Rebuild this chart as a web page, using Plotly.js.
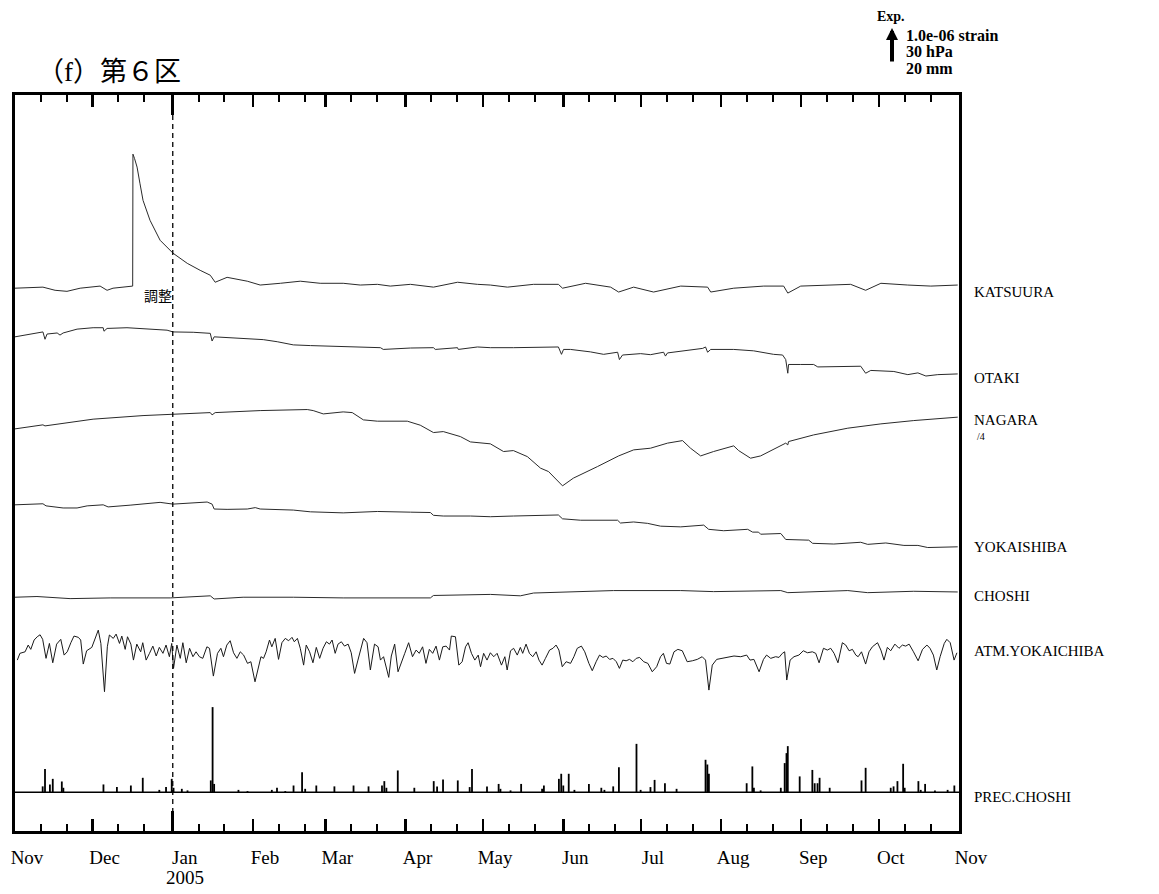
<!DOCTYPE html>
<html>
<head>
<meta charset="utf-8">
<script src="https://cdn.plot.ly/plotly-3.0.1.min.js"></script>
<style>html,body{margin:0;padding:0;background:#fff;}#chart{width:1159px;height:894px;}</style>
</head>
<body>
<div id="chart"></div>
<script>
// ---------------- DATA (days since 2004-11-01) ----------------
const TICK_LABELS = ['Nov','Dec','Jan','Feb','Mar','Apr','May','Jun','Jul','Aug','Sep','Oct','Nov'];
const YEAR_LABEL = '2005';

// KATSUURA strain change, 1e-7
const KATSUURA_DAY = [0,10.8,15.5,20.1,25.2,32.9,35.6,37.9,45.5,45.6,46.2,47.2,48.3,49.5,52.2,56.1,61.1,66.6,71.6,75.5,77.4,82.0,89.8,94.8,102.6,110.3,118.0,126.9,133.5,140.1,145.1,152.9,161.8,171.1,178.8,183.8,190.4,200.5,210.1,211.7,220.6,230.3,233.4,239.2,246.9,257.4,267.8,269.0,277.9,289.5,297.2,298.8,303.8,314.2,323.1,328.9,334.8,345.2,354.1,364.5];
const KATSUURA_VAL = [0,0.3,-0.6,-0.9,0,0.6,-0.6,0,0.6,38.3,37.1,34.6,30.0,25.1,19.4,13.7,10.0,7.1,5.1,3.7,1.7,3.1,2.0,0.9,1.4,2.0,1.4,1.4,0.9,1.1,0.6,1.1,0.3,1.7,1.1,0.9,0.3,1.1,1.1,0,1.4,0.3,-1.1,0.3,-1.1,0.6,0.3,-1.1,0,0.6,0.6,-1.4,0.6,0.9,1.1,-0.6,1.4,0.9,0.6,0.9];

// OTAKI strain change, 1e-7
const OTAKI_DAY = [0,5.8,10.8,11.6,12.4,16.3,17.4,18.6,24.0,30.2,34.1,34.4,35.6,43.3,52.2,58.8,61.1,68.9,75.5,76.2,77.0,88.2,96.0,101.4,107.6,114.2,123.1,126.9,141.3,142.4,147.8,152.9,161.8,162.5,171.1,171.4,178.8,183.8,192.7,210.1,211.3,212.1,214.8,222.5,227.6,233.0,233.7,234.9,241.9,245.7,250.8,251.5,252.3,260.1,265.9,267.0,267.8,269.0,277.9,285.6,293.3,296.8,298.0,298.8,299.1,303.8,308.8,310.4,327.0,328.9,330.9,339.8,345.2,349.1,352.2,356.8,364.5];
const OTAKI_VAL = [0.1,0.9,1.5,-0.6,0.9,1.2,0.6,1.2,2.3,2.7,2.7,1.7,2.5,2.7,2.4,2.0,1.5,1.4,1.1,-1.1,0.1,-0.3,-0.7,-1.3,-2.2,-2.4,-2.6,-2.8,-3.0,-3.5,-3.2,-3.1,-3.0,-3.5,-3.0,-3.5,-2.8,-3.0,-3.0,-2.8,-4.9,-3.5,-3.5,-4.2,-4.9,-4.3,-6.4,-5.1,-4.7,-5.0,-4.3,-5.4,-4.5,-3.7,-3.2,-2.8,-4.3,-3.5,-3.5,-3.9,-4.9,-5.1,-6.4,-10.3,-7.8,-7.8,-7.8,-8.5,-8.3,-10.3,-9.5,-9.8,-10.7,-10.2,-11.1,-10.7,-10.5];

// NAGARA strain change, 1e-7 (plotted divided by 4)
const NAGARA_DAY = [0,10.8,11.6,30.2,49.5,61.1,75.5,76.2,77.4,94.8,113.0,115.3,119.2,126.9,130.4,134.7,140.1,151.7,156.7,161.8,165.6,172.2,176.1,183.8,188.9,192.7,198.1,203.2,206.3,211.7,215.9,225.2,233.4,239.2,245.7,252.3,258.1,261.2,265.1,270.1,277.9,279.8,284.4,288.3,298.0,298.8,299.1,308.8,322.0,334.8,347.5,364.5];
const NAGARA_VAL = [0,4.6,3.4,11.1,15.2,16.8,18.6,16.0,18.6,20.9,22.1,20.9,17.1,19.4,18.6,10.3,8.8,8.8,4.2,-4.2,-3.1,-8.8,-14.9,-17.1,-25.9,-24.8,-31.7,-44.9,-48.8,-65.1,-56.3,-43.1,-30.9,-24.0,-22.1,-16.3,-13.4,-22.1,-30.9,-25.9,-19.4,-24.8,-33.5,-30.9,-16.3,-18.3,-14.5,-6.9,0.8,5.7,9.5,13.4];

// YOKAISHIBA strain change, 1e-7
const YOKAISHIBA_DAY = [0,10.8,12.0,18.6,24.0,27.9,34.1,36.0,44.5,56.1,61.1,67.7,74.3,76.2,77.0,82.0,89.8,92.9,94.8,107.6,114.2,126.9,140.1,152.9,160.6,161.8,165.6,176.1,183.8,192.7,203.2,210.1,211.7,218.7,233.0,234.1,239.2,244.6,249.6,257.4,266.3,268.2,274.0,283.3,285.2,287.5,288.3,296.1,298.0,306.9,308.4,316.6,327.0,329.7,336.7,343.7,349.1,352.9,364.5];
const YOKAISHIBA_VAL = [0.1,0.4,-0.2,-0.8,-0.8,-0.2,0.1,-0.5,0,0.8,0.3,0.5,0.9,0.3,-1.1,-1.2,-1.1,-0.7,-1.1,-1.4,-1.9,-2.2,-1.8,-2.0,-2.1,-2.9,-3.1,-3.1,-3.3,-3.1,-2.9,-2.8,-3.9,-4.3,-4.3,-5.1,-4.8,-5.2,-6.0,-6.2,-5.7,-6.9,-7.3,-6.9,-7.7,-7.7,-8.3,-8.1,-9.8,-10.0,-10.9,-11.1,-10.6,-11.2,-10.8,-11.5,-11.5,-12.1,-11.9];

// CHOSHI strain change, 1e-7
const CHOSHI_DAY = [0,8.5,21.3,36.8,60.0,67.7,75.5,77.0,88.2,107.6,126.9,160.6,161.8,183.8,195.4,200.5,218.7,231.4,257.4,270.1,296.1,298.8,322.0,329.7,347.5,364.5];
const CHOSHI_VAL = [-0.1,0.1,-0.5,-0.3,-0.3,-0.1,0.3,-0.6,-0.1,-0.1,-0.3,-0.3,0.4,0.7,0.3,1.1,1.4,1.8,1.8,1.5,1.8,1.2,1.8,1.2,1.6,1.4];

// ATM.YOKAICHIBA pressure, hPa
const ATM_DAY = [0.9,1.9,3.9,5.1,6.1,7.4,8.6,9.7,10.7,12.0,13.3,14.6,16.1,17.7,19.0,20.2,21.6,22.8,24.5,25.4,26.4,27.7,29.7,31.0,32.2,33.2,34.6,35.7,36.5,38.0,39.1,40.4,41.3,42.6,43.5,44.8,45.8,47.1,48.6,49.4,50.7,52.0,53.3,54.6,55.8,57.2,58.4,59.7,60.6,61.3,62.6,63.9,64.9,66.2,67.5,68.8,70.0,71.3,72.6,74.2,75.2,76.7,78.3,79.6,80.6,81.9,83.2,84.5,85.8,87.1,88.4,89.9,91.2,92.8,93.8,95.1,96.1,97.1,98.4,99.3,100.6,101.9,103.2,104.5,105.8,107.1,108.0,109.2,110.3,111.6,112.6,113.9,115.2,116.5,117.8,119.1,120.4,121.6,122.6,123.8,124.9,126.2,127.4,128.8,130.0,131.3,132.6,133.9,134.8,136.1,137.4,139.0,140.4,141.3,142.5,143.8,144.5,145.5,146.8,148.1,149.4,150.7,152.2,153.7,155.1,156.3,157.6,158.9,160.2,161.5,162.8,164.1,165.4,166.7,168.0,168.7,170.3,171.6,172.9,174.2,175.2,176.5,177.8,179.1,180.0,181.2,182.5,183.8,185.1,186.4,188.1,189.4,190.3,191.6,192.8,194.2,195.4,196.3,197.6,198.9,200.2,201.5,202.6,203.8,205.1,206.7,208.0,209.2,210.3,211.6,213.1,214.8,216.1,217.4,219.0,220.3,221.9,223.2,224.7,226.0,227.3,228.6,229.9,231.2,232.5,233.7,235.0,236.3,237.6,238.9,240.2,241.5,243.1,244.7,246.4,248.1,249.6,250.7,251.9,253.2,254.8,256.3,258.0,259.9,261.9,263.8,265.7,267.0,268.3,269.6,271.3,273.5,275.4,278.0,280.6,282.9,284.2,285.7,287.7,289.4,290.6,292.2,294.1,295.4,296.7,297.6,298.4,299.7,301.2,303.1,304.8,306.4,308.3,309.6,310.9,312.6,314.1,315.4,316.7,318.2,319.9,321.2,322.5,323.8,325.1,326.0,327.3,328.9,330.2,331.5,333.5,334.8,336.0,337.3,338.6,340.2,341.8,343.1,344.4,345.7,347.4,349.2,350.9,352.6,353.8,355.1,356.4,357.7,359.3,360.3,361.6,363.1,364.2];
const ATM_HPA = [1004.4,1010.2,1011.5,1017.3,1013.6,1021.6,1024.4,1026.1,1022.2,1005.9,1018.7,1002.1,1018.1,1022.2,1008.7,1011.5,1019.3,1025.0,1023.9,1021.6,1001.0,1012.4,1015.3,1023.0,1030.1,1018.7,977.3,1015.8,1025.9,1023.0,1026.7,1018.7,1025.0,1013.6,1024.4,1018.1,1004.4,1018.1,1011.5,1019.3,1004.4,1010.2,1016.4,1007.9,1015.3,1010.2,1017.3,1007.3,1018.7,997.3,1017.3,1005.9,1019.3,1002.1,1014.5,1007.3,1011.5,1007.3,1005.9,1015.8,1014.5,990.7,1010.2,1014.5,1007.3,1017.3,1021.0,1010.7,1005.9,1011.5,1008.7,1001.6,1003.0,985.8,996.5,1007.3,1005.9,1011.5,1021.6,1015.8,1023.0,1005.0,1019.3,1023.0,1021.0,1023.9,1020.1,1023.0,1014.5,1000.1,1017.3,1011.5,1002.1,1015.3,1005.9,1014.5,1020.1,1018.1,1021.6,1010.2,1018.1,1020.1,1016.4,1018.1,1010.7,993.0,1004.4,1016.4,1023.0,1019.3,995.9,1018.1,1015.8,1004.4,1007.3,995.9,989.6,1007.9,1018.1,994.4,1003.0,1010.2,1019.3,1007.3,1013.0,1010.2,1015.8,1001.6,1013.6,1010.2,1016.4,1004.4,1015.8,1016.4,1013.0,1025.0,1024.4,1000.1,1003.0,1015.8,1019.3,1010.2,1004.4,1008.7,998.7,1010.2,1004.4,1010.7,1007.3,1010.2,1000.1,1007.3,995.9,1012.4,1014.5,1008.7,1015.3,1010.2,1018.1,1010.2,1007.3,1011.5,1004.4,1000.1,1005.9,1013.0,1014.5,1017.3,1013.0,998.7,1003.0,1001.6,1007.3,1014.5,1016.4,1011.5,1001.6,995.3,1003.0,1008.7,1006.7,1007.9,1005.0,1005.9,1003.0,997.3,1004.4,1003.8,1005.0,1003.0,1005.9,1006.7,1003.0,1001.6,994.4,998.7,1007.3,1010.2,1001.6,1001.0,1011.5,1013.6,1012.4,1003.0,1003.8,1005.0,1007.3,1004.4,978.7,1000.1,1005.0,1005.9,1007.3,1007.9,1007.3,1008.7,1004.4,1005.0,994.4,1005.0,1008.7,1005.9,1007.3,1006.7,1010.2,1011.5,987.3,1004.4,1007.3,1008.7,1012.4,1010.7,1011.5,1010.2,1002.1,1014.5,1013.0,1014.5,1010.2,1002.1,1019.3,1017.3,1012.4,1013.6,1008.7,1007.3,1011.5,1001.0,1011.5,1015.8,1019.3,1013.0,1004.4,1015.3,1012.4,1018.1,1014.5,1017.3,1016.4,1018.1,1011.5,1003.8,1013.6,1017.3,1014.5,1008.7,995.9,1007.3,1018.7,1022.2,1019.3,1004.4,1010.7];

// PREC.CHOSHI precipitation, mm
const PREC_DAY = [10.7,11.6,13.5,14.6,18.1,18.7,34.2,39.4,44.8,49.4,55.8,58.4,60.6,61.3,64.5,66.7,75.7,76.4,77.0,86.4,89.9,99.3,101.3,104.5,107.7,111.0,112.2,116.5,123.5,130.9,136.7,141.9,142.8,143.6,148.0,154.4,161.9,163.2,165.5,171.2,175.8,176.7,182.5,187.0,187.7,191.6,195.7,203.8,204.5,210.3,211.2,212.0,214.1,216.3,221.9,226.7,227.9,231.3,233.5,240.3,241.9,245.7,247.3,251.3,255.8,267.0,267.7,268.3,282.9,285.1,285.7,288.3,296.1,297.6,298.3,298.8,303.4,308.3,309.2,310.3,311.1,315.0,327.3,328.9,338.6,339.7,341.2,343.4,344.0,349.3,350.2,351.9,355.7,360.6,363.2];
const PREC_MM = [3.3,13.3,4.4,7.6,6.1,2.5,4.4,2.9,3.8,8.2,1.3,2.9,7.6,2.5,1.9,1.0,6.7,48.6,4.7,1.3,0.6,1.3,2.5,0.6,3.8,11.4,1.9,3.8,3.3,3.8,3.3,3.8,6.3,2.5,12.4,2.5,6.3,3.3,7.3,6.7,2.9,13.3,3.3,4.7,1.9,1.0,4.7,1.9,3.8,7.6,10.5,3.8,10.5,1.3,4.7,2.5,1.3,3.3,14.3,27.6,1.3,2.9,7.0,5.1,1.9,18.5,15.8,10.5,5.1,14.7,2.5,1.0,2.5,16.6,22.3,26.3,9.0,12.7,5.1,5.1,8.2,2.5,6.7,13.9,2.5,3.3,6.3,16.2,2.5,6.3,1.3,4.7,1.0,1.3,3.8];

// ---------------- helpers / layout constants ----------------
const T0 = Date.UTC(2004, 10, 1);
function dayToDate(d) { return new Date(T0 + d * 864e5).toISOString().slice(0, 19).replace('T', ' '); }
function ymd(y, m, d) { return new Date(Date.UTC(y, m, d)).toISOString().slice(0, 10); }

// one vertical unit = 1.0e-06 strain = 30 hPa = 20 mm
const UNIT_STRAIN_1E7 = 10, UNIT_HPA = 30, UNIT_MM = 20, NAGARA_DIV = 4, P_REF = 1013;
const YMAX = 21.03;
const BASE = {KATSUURA: 15.51, OTAKI: 14.11, NAGARA: 11.49, YOKAISHIBA: 9.31, CHOSHI: 6.69, ATM: 5.17, PREC: 1.11};

const L = 15, R = 200, T = 95, B = 63, W = 1159, H = 894;
const PW = W - L - R, PH = H - T - B;
const PX = x => (x - L) / PW;
const PY = y => (H - B - y) / PH;

const monthStarts = [], minorTicks = [];
for (let i = 0; i <= 12; i++) monthStarts.push(ymd(2004, 10 + i, 1));
for (let i = 0; i < 12; i++) { minorTicks.push(ymd(2004, 10 + i, 11)); minorTicks.push(ymd(2004, 10 + i, 21)); }

const lineColor = '#2a2a2a';
function lineTrace(days, vals, base, div) {
  return {
    type: 'scatter', mode: 'lines',
    x: days.map(dayToDate), y: vals.map(v => base + v / div),
    line: {color: lineColor, width: 1}, hoverinfo: 'skip', showlegend: false
  };
}

const traces = [
  lineTrace(KATSUURA_DAY, KATSUURA_VAL, BASE.KATSUURA, UNIT_STRAIN_1E7),
  lineTrace(OTAKI_DAY, OTAKI_VAL, BASE.OTAKI, UNIT_STRAIN_1E7),
  lineTrace(NAGARA_DAY, NAGARA_VAL, BASE.NAGARA, UNIT_STRAIN_1E7 * NAGARA_DIV),
  lineTrace(YOKAISHIBA_DAY, YOKAISHIBA_VAL, BASE.YOKAISHIBA, UNIT_STRAIN_1E7),
  lineTrace(CHOSHI_DAY, CHOSHI_VAL, BASE.CHOSHI, UNIT_STRAIN_1E7),
  {
    type: 'scatter', mode: 'lines',
    x: ATM_DAY.map(dayToDate), y: ATM_HPA.map(p => BASE.ATM + (p - P_REF) / UNIT_HPA),
    line: {color: '#1a1a1a', width: 1}, hoverinfo: 'skip', showlegend: false
  },
  {
    type: 'bar',
    x: PREC_DAY.map(dayToDate), y: PREC_MM.map(m => m / UNIT_MM), base: BASE.PREC,
    width: 0.7 * 864e5,
    marker: {color: '#000', line: {width: 0}}, hoverinfo: 'skip', showlegend: false
  },
  {type: 'scatter', mode: 'lines', x: [], y: [], xaxis: 'x2', hoverinfo: 'skip', showlegend: false}
];

const serif = 'Liberation Serif, Times New Roman, serif';
const cjk = 'Noto Sans CJK JP, sans-serif';

function rlabel(text, ypx, size, xshift) {
  return {xref: 'paper', yref: 'paper', x: 1, y: PY(ypx), xshift: xshift, xanchor: 'left', yanchor: 'middle',
          text: text, showarrow: false, font: {family: serif, size: size, color: '#000'}};
}
function expLine(text, ypx) {
  return {xref: 'paper', yref: 'paper', x: PX(904), y: PY(ypx), xanchor: 'left', yanchor: 'middle',
          text: '<b>' + text + '</b>', showarrow: false, font: {family: serif, size: 16, color: '#000'}};
}

const annotations = [
  rlabel('KATSUURA', 292, 15, 13),
  rlabel('OTAKI', 378, 15, 13),
  rlabel('NAGARA', 420, 15, 13),
  rlabel('/4', 436, 10, 16),
  rlabel('YOKAISHIBA', 547, 15, 13),
  rlabel('CHOSHI', 596, 15, 13),
  rlabel('ATM.YOKAICHIBA', 651, 15, 13),
  rlabel('PREC.CHOSHI', 797, 15, 13),
  {xref: 'paper', yref: 'paper', x: PX(142), y: PY(295), xanchor: 'left', yanchor: 'middle',
   text: '調整', showarrow: false, font: {family: cjk, size: 14, color: '#000'}},
  {xref: 'paper', yref: 'paper', x: PX(875), y: PY(16), xanchor: 'left', yanchor: 'middle',
   text: '<b>Exp.</b>', showarrow: false, font: {family: serif, size: 14, color: '#000'}},
  expLine('1.0e-06 strain', 36),
  expLine('30 hPa', 52),
  expLine('20 mm', 68),
  {xref: 'paper', yref: 'paper', x: PX(892), y: PY(28), ax: 0, ay: 35, axref: 'pixel', ayref: 'pixel',
   text: '', showarrow: true, arrowhead: 2, arrowsize: 0.6, arrowwidth: 4, arrowcolor: '#000', standoff: 0, startstandoff: 0},
  {xref: 'x', yref: 'paper', x: ymd(2005, 0, 1), xshift: 12, y: PY(877), xanchor: 'center', yanchor: 'middle',
   text: YEAR_LABEL, showarrow: false, font: {family: serif, size: 19, color: '#000'}}
];

const layout = {
  width: W, height: H,
  margin: {l: L, r: R, t: T, b: B, pad: 0},
  paper_bgcolor: '#fff', plot_bgcolor: '#fff',
  title: {text: '（f）第６区', xref: 'container', yref: 'container', x: 37 / W, xanchor: 'left',
          y: 1 - 72 / H, yanchor: 'middle', font: {family: 'Liberation Serif, Noto Sans CJK JP', size: 27, color: '#000'}},
  showlegend: false,
  xaxis: {
    type: 'date', range: [dayToDate(0), dayToDate(365)], fixedrange: true,
    tickmode: 'array', tickvals: monthStarts, ticktext: TICK_LABELS,
    ticks: 'inside', ticklen: 12, tickwidth: 2.5, tickcolor: '#000',
    showline: true, linewidth: 3, linecolor: '#000', mirror: 'ticks',
    showgrid: false, zeroline: false,
    tickfont: {family: serif, size: 19, color: '#000'},
    ticklabelshift: 12, ticklabelstandoff: 7,
    minor: {tickmode: 'array', tickvals: minorTicks, ticks: 'inside', ticklen: 7, tickwidth: 2, tickcolor: '#000', showgrid: false}
  },
  xaxis2: {
    type: 'date', overlaying: 'x', anchor: 'y', range: [dayToDate(0), dayToDate(365)], fixedrange: true,
    tickmode: 'array', tickvals: [ymd(2005, 0, 1)], showticklabels: false,
    ticks: 'inside', ticklen: 20, tickwidth: 3, tickcolor: '#000', mirror: 'ticks',
    showline: false, showgrid: false, zeroline: false
  },
  yaxis: {
    range: [0, YMAX], fixedrange: true, showticklabels: false, ticks: '',
    showline: true, linewidth: 3, linecolor: '#000', mirror: true,
    showgrid: false, zeroline: false
  },
  shapes: [
    {type: 'line', xref: 'x', yref: 'paper', x0: ymd(2005, 0, 1), x1: ymd(2005, 0, 1), y0: 0, y1: 1,
     line: {color: '#000', width: 1.3, dash: '5px,4px'}},
    {type: 'line', xref: 'paper', yref: 'y', x0: 0, x1: 1, y0: BASE.PREC, y1: BASE.PREC,
     line: {color: '#000', width: 1.5}}
  ],
  annotations: annotations
};

Plotly.newPlot('chart', traces, layout, {staticPlot: true, displayModeBar: false});
</script>
</body>
</html>
